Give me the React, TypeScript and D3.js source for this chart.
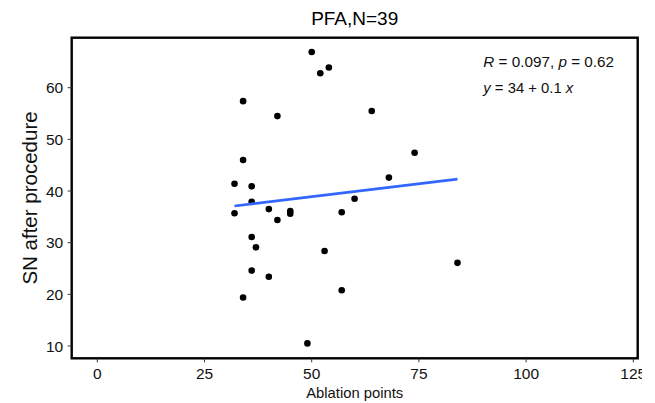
import React from "react";
import * as d3 from "d3";

const ablationPoints = [50, 52, 54, 34, 42, 64, 74, 34, 32, 36, 68, 36, 32, 40, 45, 45, 42, 57, 60, 36, 37, 53, 36, 40, 34, 57, 49, 84];
const snAfter = [66.9, 62.8, 63.9, 57.4, 54.5, 55.5, 47.4, 46.0, 41.4, 40.9, 42.6, 37.9, 35.7, 36.5, 36.1, 35.6, 34.4, 35.9, 38.5, 31.1, 29.1, 28.4, 24.6, 23.4, 19.4, 20.8, 10.5, 26.1];
const xTicks = [0, 25, 50, 75, 100, 125];
const yTicks = [10, 20, 30, 40, 50, 60];
const fitIntercept = 33.9;
const fitSlope = 0.1;
const title = "PFA,N=39";
const xLabel = "Ablation points";
const yLabel = "SN after procedure";

const FONT = "'Liberation Sans', Arial, Helvetica, sans-serif";

export default function App() {
  const W = 655, H = 403;
  const panel = { left: 71.7, right: 637.7, top: 37.7, bottom: 358.3 };
  const x = d3.scaleLinear().domain([0, 125]).range([97.3, 633.3]);
  const y = d3.scaleLinear().domain([10, 60]).range([346, 87.7]);
  const pts = ablationPoints.map((v, i) => ({ x: v, y: snAfter[i] }));
  const [xmin, xmax] = d3.extent(ablationPoints) as [number, number];
  const fitLine = d3.line<number>().x((d) => x(d)).y((d) => y(fitIntercept + fitSlope * d));
  const tickColor = "#333333";
  return (
    <svg width={W} height={H} style={{ position: "absolute", left: 0, top: 0, background: "#fff" }} fontFamily={FONT}>
      <defs>
        <clipPath id="imgclip">
          <rect x={0} y={0} width={642} height={H} />
        </clipPath>
      </defs>
      <g clipPath="url(#imgclip)">
        <text x={(panel.left + panel.right) / 2} y={25} textAnchor="middle" fontSize={19} fill="#000">{title}</text>
        {pts.map((p, i) => (
          <circle key={i} cx={x(p.x)} cy={y(p.y)} r={3.3} fill="#000" />
        ))}
        <path d={fitLine([xmin, xmax]) || ""} fill="none" stroke="#3366FF" strokeWidth={2.6} />
        <rect x={panel.left} y={panel.top} width={panel.right - panel.left} height={panel.bottom - panel.top} fill="none" stroke="#000" strokeWidth={2.4} />
        {yTicks.map((t) => (
          <g key={"y" + t}>
            <line x1={panel.left - 4} x2={panel.left} y1={y(t)} y2={y(t)} stroke={tickColor} strokeWidth={1} />
            <text x={panel.left - 8.5} y={y(t)} dy="0.36em" textAnchor="end" fontSize={15.5} fill="#111">{t}</text>
          </g>
        ))}
        {xTicks.map((t) => (
          <g key={"x" + t}>
            <line x1={x(t)} x2={x(t)} y1={panel.bottom} y2={panel.bottom + 4} stroke={tickColor} strokeWidth={1} />
            <text x={x(t)} y={378.5} textAnchor="middle" fontSize={15.5} fill="#111">{t}</text>
          </g>
        ))}
        <text x={(panel.left + panel.right) / 2} y={398} textAnchor="middle" fontSize={14.8} fill="#111">{xLabel}</text>
        <text transform={`translate(36.5,${(panel.top + panel.bottom) / 2}) rotate(-90)`} textAnchor="middle" fontSize={20.5} fill="#111">{yLabel}</text>
        <text x={483.3} y={66.7} fontSize={14} fill="#111" textLength={130.7} lengthAdjust="spacingAndGlyphs">
          <tspan fontStyle="italic">R</tspan>
          <tspan> = 0.097, </tspan>
          <tspan fontStyle="italic">p</tspan>
          <tspan> = 0.62</tspan>
        </text>
        <text x={483.3} y={93.3} fontSize={14} fill="#111" textLength={90} lengthAdjust="spacingAndGlyphs">
          <tspan fontStyle="italic">y</tspan>
          <tspan> = 34 + 0.1 </tspan>
          <tspan fontStyle="italic">x</tspan>
        </text>
      </g>
    </svg>
  );
}
